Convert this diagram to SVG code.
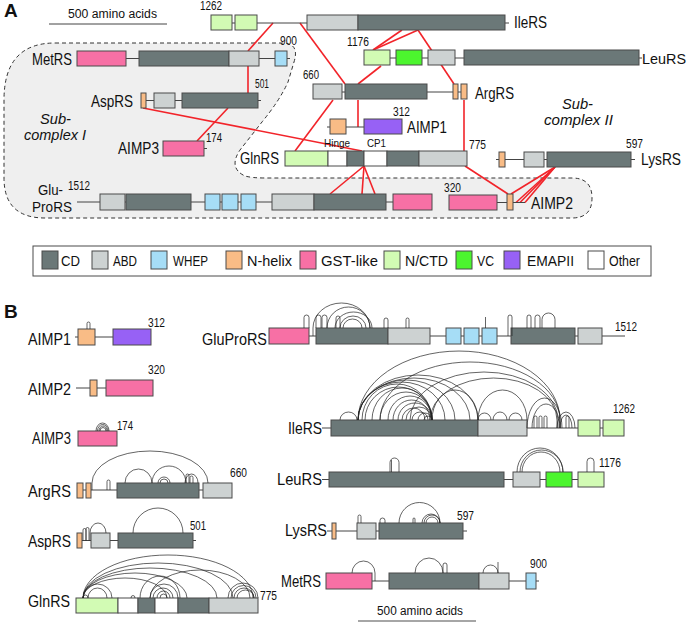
<svg xmlns="http://www.w3.org/2000/svg" width="691" height="626" viewBox="0 0 691 626">
<style>
text{font-family:"Liberation Sans",Arial,sans-serif;fill:#111}
.lb{font-size:17px}
.lb2{font-size:15.5px}
.nm{font-size:12px}
.sm{font-size:10.5px}
.it{font-size:14px;font-style:italic}
.pl{font-size:19px;font-weight:bold}
.lg{font-size:15px}
rect{stroke:#4a4a4a;stroke-width:1}
.cd{fill:#6b7878}.abd{fill:#cdd2d2}.whep{fill:#a6ddf6}.nh{fill:#f9bc86}.gst{fill:#f770a5}.nctd{fill:#d2fbb4}.vc{fill:#4cf52e}.emap{fill:#9761f5}.oth{fill:#fff}
.ln{stroke:#444;stroke-width:1;fill:none}
.red{stroke:#f2242a;stroke-width:1.6;fill:none}
.arc{fill:none;stroke:#222;stroke-width:0.7}
</style>

<!-- Panel A -->
<text class="pl" x="4" y="17">A</text>
<g id="scaleA">
<text x="68" y="18" font-size="12.5" textLength="89" lengthAdjust="spacingAndGlyphs">500 amino acids</text>
<line class="ln" x1="49" y1="24" x2="167" y2="24"/>
</g>

<path id="subcomplexI" d="M55,43 L282,43 Q300,43 294,62 L288,82 Q280,100 262,122 L240,150 Q228,168 245,176 Q252,178 265,178 L572,178 Q592,178 592,198 Q592,218 572,218 L45,218 Q4,218 4,178 L4,100 Q4,43 55,43 Z" fill="#efefef" stroke="#333" stroke-width="1" stroke-dasharray="4 3"/>
<text class="it" x="40" y="124" textLength="31" lengthAdjust="spacingAndGlyphs">Sub-</text>
<text class="it" x="24" y="139.5" textLength="62" lengthAdjust="spacingAndGlyphs">complex I</text>
<text class="it" x="562" y="109" textLength="31" lengthAdjust="spacingAndGlyphs">Sub-</text>
<text class="it" x="544" y="125" textLength="69" lengthAdjust="spacingAndGlyphs">complex II</text>

<g id="connectors">
<line class="red" x1="273" y1="23" x2="248" y2="51"/>
<line class="red" x1="300" y1="23" x2="345" y2="84"/>
<line class="red" x1="402" y1="30" x2="373" y2="50"/>
<line class="red" x1="418" y1="30" x2="373" y2="50"/>
<line class="red" x1="418" y1="30" x2="454" y2="84"/>
<line class="red" x1="381" y1="66" x2="358" y2="84"/>
<line class="red" x1="248" y1="66" x2="248" y2="93"/>
<line class="red" x1="143" y1="108" x2="362" y2="151"/>
<line class="red" x1="228" y1="108" x2="197" y2="141"/>
<line class="red" x1="333" y1="100" x2="295" y2="151"/>
<line class="red" x1="358" y1="100" x2="358" y2="127"/>
<line class="red" x1="464" y1="100" x2="464" y2="151"/>
<line class="red" x1="465" y1="166" x2="508" y2="194"/>
<line class="red" x1="364" y1="166" x2="330" y2="194"/>
<line class="red" x1="364" y1="166" x2="362" y2="194"/>
<line class="red" x1="364" y1="166" x2="375" y2="194"/>
<line class="red" x1="555" y1="167" x2="511" y2="194"/>
<line class="red" x1="555" y1="167" x2="516" y2="202.5"/>
<line class="red" x1="555" y1="167" x2="520" y2="202.5"/>
<line class="red" x1="555" y1="167" x2="525" y2="202.5"/>
</g>

<g id="A-IleRS">
<line class="ln" x1="211" y1="23" x2="509" y2="23"/>
<rect class="nctd" x="211" y="15" width="21" height="15"/>
<rect class="nctd" x="235" y="15" width="22" height="15"/>
<rect class="abd" x="307" y="15" width="51" height="15"/>
<rect class="cd" x="358" y="15" width="147" height="15"/>
<text class="nm" x="200" y="10" textLength="22" lengthAdjust="spacingAndGlyphs">1262</text>
<text class="lb" x="514" y="28" textLength="33" lengthAdjust="spacingAndGlyphs">IleRS</text>
</g>
<g id="A-LeuRS">
<line class="ln" x1="364" y1="58" x2="642" y2="58"/>
<rect class="nctd" x="364" y="50" width="26" height="15"/>
<rect class="vc" x="396" y="50" width="26" height="15"/>
<rect class="abd" x="428" y="50" width="27" height="15"/>
<rect class="cd" x="464" y="50" width="175" height="15"/>
<text class="nm" x="347" y="46" textLength="22" lengthAdjust="spacingAndGlyphs">1176</text>
<text class="lb2" x="642" y="64" textLength="44" lengthAdjust="spacingAndGlyphs">LeuRS</text>
</g>
<g id="A-ArgRS">
<line class="ln" x1="313" y1="92" x2="467" y2="92"/>
<rect class="abd" x="313" y="84" width="29" height="15"/>
<rect class="cd" x="345" y="84" width="82" height="15"/>
<rect class="nh" x="453" y="84" width="5" height="15"/>
<rect class="nh" x="461" y="84" width="6" height="15"/>
<text class="nm" x="303" y="79" textLength="16" lengthAdjust="spacingAndGlyphs">660</text>
<text class="lb" x="475" y="99" textLength="39" lengthAdjust="spacingAndGlyphs">ArgRS</text>
</g>
<g id="A-AIMP1">
<line class="ln" x1="327" y1="127" x2="402" y2="127"/>
<rect class="nh" x="330" y="119" width="16" height="15"/>
<rect class="emap" x="364" y="119" width="38" height="15"/>
<text class="nm" x="393" y="116" textLength="17" lengthAdjust="spacingAndGlyphs">312</text>
<text class="lb" x="407" y="133" textLength="40" lengthAdjust="spacingAndGlyphs">AIMP1</text>
</g>
<g id="A-GlnRS">
<rect class="nctd" x="285" y="151" width="43" height="15"/>
<rect class="oth" x="328" y="151" width="19" height="15"/>
<rect class="cd" x="347" y="151" width="17" height="15"/>
<rect class="oth" x="364" y="151" width="23" height="15"/>
<rect class="cd" x="387" y="151" width="32" height="15"/>
<rect class="abd" x="419" y="151" width="48" height="15"/>
<text class="sm" x="324" y="147" textLength="26" lengthAdjust="spacingAndGlyphs">Hinge</text>
<text class="sm" x="367" y="147" textLength="19" lengthAdjust="spacingAndGlyphs">CP1</text>
<text class="nm" x="469" y="149" textLength="17" lengthAdjust="spacingAndGlyphs">775</text>
<text class="lb" x="240" y="164" textLength="39" lengthAdjust="spacingAndGlyphs">GlnRS</text>
</g>
<g id="A-LysRS">
<line class="ln" x1="496" y1="159.5" x2="635" y2="159.5"/>
<rect class="nh" x="499" y="152" width="6" height="15"/>
<rect class="abd" x="524" y="152" width="20" height="15"/>
<rect class="cd" x="547" y="152" width="84" height="15"/>
<text class="nm" x="626" y="148" textLength="17" lengthAdjust="spacingAndGlyphs">597</text>
<text class="lb" x="641" y="165" textLength="40" lengthAdjust="spacingAndGlyphs">LysRS</text>
</g>
<g id="A-AIMP2">
<line class="ln" x1="497" y1="202.5" x2="525" y2="202.5"/>
<rect class="gst" x="449" y="195" width="48" height="15"/>
<rect class="nh" x="507" y="194" width="6" height="16"/>
<text class="nm" x="444" y="192" textLength="17" lengthAdjust="spacingAndGlyphs">320</text>
<text class="lb" x="531" y="209" textLength="42" lengthAdjust="spacingAndGlyphs">AIMP2</text>
</g>
<g id="A-GluProRS">
<line class="ln" x1="77" y1="202" x2="432" y2="202"/>
<rect class="abd" x="100" y="194" width="25" height="16"/>
<rect class="cd" x="126" y="194" width="65" height="16"/>
<rect class="whep" x="205" y="194" width="15" height="16"/>
<rect class="whep" x="222" y="194" width="16" height="16"/>
<rect class="whep" x="241" y="194" width="15" height="16"/>
<rect class="abd" x="272" y="194" width="42" height="16"/>
<rect class="cd" x="314" y="194" width="72" height="16"/>
<rect class="gst" x="393" y="194" width="39" height="16"/>
<text class="nm" x="68" y="190" textLength="22" lengthAdjust="spacingAndGlyphs">1512</text>
<text class="lb2" x="38" y="195" textLength="25" lengthAdjust="spacingAndGlyphs">Glu-</text>
<text class="lb2" x="32" y="212" textLength="40" lengthAdjust="spacingAndGlyphs">ProRS</text>
</g>
<g id="A-MetRS">
<line class="ln" x1="126" y1="58.5" x2="290" y2="58.5"/>
<rect class="gst" x="77" y="51" width="49" height="15"/>
<rect class="cd" x="139" y="51" width="90" height="15"/>
<rect class="abd" x="229" y="51" width="30" height="15"/>
<rect class="whep" x="275" y="51" width="12" height="15"/>
<text class="nm" x="280" y="45" textLength="17" lengthAdjust="spacingAndGlyphs">900</text>
<text class="lb" x="32" y="65" textLength="40" lengthAdjust="spacingAndGlyphs">MetRS</text>
</g>
<g id="A-AspRS">
<line class="ln" x1="141" y1="100.5" x2="261" y2="100.5"/>
<rect class="nh" x="141" y="93" width="5" height="15"/>
<rect class="abd" x="154" y="93" width="21" height="15"/>
<rect class="cd" x="182" y="93" width="76" height="15"/>
<text class="nm" x="255" y="88" textLength="14" lengthAdjust="spacingAndGlyphs">501</text>
<text class="lb" x="91" y="107" textLength="42" lengthAdjust="spacingAndGlyphs">AspRS</text>
</g>
<g id="A-AIMP3">
<line class="ln" x1="204" y1="148.5" x2="207" y2="148.5"/>
<rect class="gst" x="163" y="141" width="41" height="15"/>
<text class="nm" x="206" y="142" textLength="16" lengthAdjust="spacingAndGlyphs">174</text>
<text class="lb" x="118" y="154" textLength="41" lengthAdjust="spacingAndGlyphs">AIMP3</text>
</g>

<g id="legend">
<rect x="33" y="246" width="618" height="30" fill="#fff" stroke="#555"/>
<rect class="cd" x="42" y="251" width="16" height="18"/><text class="lg" x="61" y="266" textLength="19" lengthAdjust="spacingAndGlyphs">CD</text>
<rect class="abd" x="92" y="251" width="16" height="18"/><text class="lg" x="113" y="266" textLength="24" lengthAdjust="spacingAndGlyphs">ABD</text>
<rect class="whep" x="151" y="251" width="16" height="18"/><text class="lg" x="173" y="266" textLength="35" lengthAdjust="spacingAndGlyphs">WHEP</text>
<rect class="nh" x="226" y="251" width="16" height="18"/><text class="lg" x="247" y="266" textLength="45" lengthAdjust="spacingAndGlyphs">N-helix</text>
<rect class="gst" x="300" y="251" width="16" height="18"/><text class="lg" x="321" y="266" textLength="57" lengthAdjust="spacingAndGlyphs">GST-like</text>
<rect class="nctd" x="384" y="251" width="16" height="18"/><text class="lg" x="405" y="266" textLength="43" lengthAdjust="spacingAndGlyphs">N/CTD</text>
<rect class="vc" x="456" y="251" width="16" height="18"/><text class="lg" x="477" y="266" textLength="17" lengthAdjust="spacingAndGlyphs">VC</text>
<rect class="emap" x="504" y="251" width="16" height="18"/><text class="lg" x="527" y="266" textLength="47" lengthAdjust="spacingAndGlyphs">EMAPII</text>
<rect class="oth" x="588" y="251" width="16" height="18"/><text class="lg" x="609" y="266" textLength="31" lengthAdjust="spacingAndGlyphs">Other</text>
</g>

<!-- Panel B -->
<text class="pl" x="4" y="318">B</text>

<g id="B-AIMP1">
<line class="ln" x1="75" y1="337" x2="113" y2="337"/>
<rect class="nh" x="78" y="329" width="17" height="16"/>
<rect class="emap" x="113" y="329" width="38" height="16"/>
<path class="arc" d="M87,329 V323.5 A1.5,1.5 0 0 1 90,323.5 V329"/>
<text class="nm" x="148" y="327" textLength="17" lengthAdjust="spacingAndGlyphs">312</text>
<text class="lb" x="28" y="345" textLength="43" lengthAdjust="spacingAndGlyphs">AIMP1</text>
</g>
<g id="B-AIMP2">
<line class="ln" x1="76" y1="388" x2="106" y2="388"/>
<rect class="nh" x="90" y="380" width="7" height="16"/>
<rect class="gst" x="106" y="380" width="47" height="16"/>
<text class="nm" x="148" y="374" textLength="17" lengthAdjust="spacingAndGlyphs">320</text>
<text class="lb" x="28" y="395" textLength="43" lengthAdjust="spacingAndGlyphs">AIMP2</text>
</g>
<g id="B-AIMP3">
<rect class="gst" x="78" y="431" width="39" height="15"/>
<path class="arc" d="M96,431 A6.5,8 0 0 1 109,431 M97.5,431 A5.25,6.5 0 0 1 108,431 M99,431 A4,5 0 0 1 107,431 M100,431 A3,3.5 0 0 1 106,431"/>
<text class="nm" x="117" y="430" textLength="16" lengthAdjust="spacingAndGlyphs">174</text>
<text class="lb" x="32" y="444" textLength="39" lengthAdjust="spacingAndGlyphs">AIMP3</text>
</g>
<g id="B-ArgRS">
<line class="ln" x1="77" y1="490" x2="232" y2="490"/>
<rect class="nh" x="77" y="483" width="6" height="15"/>
<rect class="nh" x="86" y="483" width="5" height="15"/>
<rect class="cd" x="117" y="483" width="82" height="15"/>
<rect class="abd" x="203" y="483" width="29" height="15"/>
<path class="arc" d="M92,490 V483 A58,32 0 0 1 208,483 M107,490 V481.5 A1.5,1.5 0 0 1 110,481.5 V490 M125,483 A13.5,14 0 0 1 152,483 M152,483 A17,17 0 0 1 186,483 M158,483 A6,6 0 0 1 170,483 M160,483 A4,4 0 0 1 168,483 M185,483 A6.5,9 0 0 1 198,483 M186,483 V475.5 A1.5,1.5 0 0 1 189,475.5 V483 M190,483 V477.5 A1.5,1.5 0 0 1 193,477.5 V483"/>
<text class="nm" x="230" y="477" textLength="17" lengthAdjust="spacingAndGlyphs">660</text>
<text class="lb" x="28" y="497" textLength="43" lengthAdjust="spacingAndGlyphs">ArgRS</text>
</g>
<g id="B-AspRS">
<line class="ln" x1="77" y1="540.5" x2="196" y2="540.5"/>
<rect class="nh" x="77" y="533" width="5" height="15"/>
<rect class="abd" x="91" y="533" width="19" height="15"/>
<rect class="cd" x="118" y="533" width="75" height="15"/>
<path class="arc" d="M133,533 A25,25 0 0 1 183,533 M90,540.5 V533 A8,10 0 0 1 106,533 M83,540.5 V530 A1.5,1.5 0 0 1 86,530 V540.5 M86,540.5 V529 A1.5,1.5 0 0 1 89,529 V540.5"/>
<text class="nm" x="190" y="530" textLength="16" lengthAdjust="spacingAndGlyphs">501</text>
<text class="lb" x="28" y="547" textLength="43" lengthAdjust="spacingAndGlyphs">AspRS</text>
</g>
<g id="B-GlnRS">
<rect class="nctd" x="76" y="598" width="42" height="15"/>
<rect class="oth" x="118" y="598" width="20" height="15"/>
<rect class="cd" x="138" y="598" width="17" height="15"/>
<rect class="oth" x="155" y="598" width="23" height="15"/>
<rect class="cd" x="178" y="598" width="31" height="15"/>
<rect class="abd" x="209" y="598" width="49" height="15"/>
<path class="arc" d="M83,598 A85,43 0 0 1 253,598 M83,598 A75,35 0 0 1 233,598 M83,598 A67,30 0 0 1 217,598 M83,598 A52,25 0 0 1 187,598 M83,598 A42,20 0 0 1 167,598 M83,598 A14.5,14 0 0 1 112,598 M88,598 A9.5,10 0 0 1 107,598 M83,598 A2.5,3 0 0 1 88,598 M131,598 A2,2.5 0 0 1 135,598 M150,598 A50,28 0 0 1 250,598 M140,598 A20,22 0 0 1 180,598 M150,598 A14,14 0 0 1 178,598 M153,598 A10,10 0 0 1 173,598 M157,598 A6.5,7 0 0 1 170,598 M160,598 A3.5,4 0 0 1 167,598 M228,598 A15,15 0 0 1 258,598 M231,598 A12.5,12.5 0 0 1 256,598 M234,598 A10,10 0 0 1 254,598 M237,598 A8.5,8 0 0 1 254,598"/>
<text class="nm" x="260" y="600" textLength="17" lengthAdjust="spacingAndGlyphs">775</text>
<text class="lb" x="28" y="607" textLength="42" lengthAdjust="spacingAndGlyphs">GlnRS</text>
</g>
<g id="B-GluProRS">
<line class="ln" x1="269" y1="336" x2="625" y2="336"/>
<rect class="gst" x="269" y="328" width="40" height="16"/>
<rect class="cd" x="316" y="328" width="72" height="16"/>
<rect class="abd" x="388" y="328" width="42" height="16"/>
<rect class="whep" x="446" y="328" width="15" height="16"/>
<rect class="whep" x="464" y="328" width="15" height="16"/>
<rect class="whep" x="482" y="328" width="15" height="16"/>
<rect class="cd" x="511" y="328" width="64" height="16"/>
<rect class="abd" x="578" y="328" width="24" height="16"/>
<path class="arc" d="M313,336 V328 A28.5,25 0 0 1 370,328 M327,328 A21.5,21 0 0 1 370,328 M335,328 A18.5,16 0 0 1 372,328 M340,328 A13,12 0 0 1 366,328 M343,328 A9.5,9 0 0 1 362,328 M304,328 V317.5 A2.5,2.5 0 0 1 309,317.5 V328 M316,328 V317.5 A2.5,2.5 0 0 1 321,317.5 V328 M322,328 V317.5 A2.5,2.5 0 0 1 327,317.5 V328 M336,328 V318 A2,2 0 0 1 340,318 V328 M384,328 V320 A2,2 0 0 1 388,320 V328 M406,328 V319.5 A1.5,1.5 0 0 1 409,319.5 V328 M485.5,328 V317 M508,336 V317 A2,2 0 0 1 512,317 V336 M527,328 V317 A2,2 0 0 1 531,317 V328 M535,328 V317.5 A2.5,2.5 0 0 1 540,317.5 V328 M542,328 V319.5 A6.5,6.5 0 0 1 555,319.5 V328"/>
<text class="nm" x="615" y="331" textLength="22" lengthAdjust="spacingAndGlyphs">1512</text>
<text class="lb" x="202" y="345" textLength="65" lengthAdjust="spacingAndGlyphs">GluProRS</text>
</g>
<g id="B-IleRS">
<line class="ln" x1="322" y1="428" x2="624" y2="428"/>
<rect class="cd" x="331" y="420" width="147" height="16"/>
<rect class="abd" x="478" y="420" width="49" height="16"/>
<rect class="nctd" x="578" y="420" width="22" height="16"/>
<rect class="nctd" x="603" y="420" width="21" height="16"/>
<path class="arc" d="M358,420 A101,69 0 0 1 560,420 V428 M380,420 A90,58 0 0 1 560,420 V428 M410,420 A74,48 0 0 1 558,420 V428 M430,420 A63.5,42 0 0 1 557,420 V428 M358,420 A60,45 0 0 1 478,420 M358,420 A56,42 0 0 1 470,420 M358,420 A48.5,40 0 0 1 455,420 M358,420 A43.5,38 0 0 1 445,420 M362,420 A35,36 0 0 1 432,420 M365,420 A33.5,33 0 0 1 432,420 M372,420 A30,32 0 0 1 432,420 M380,420 A26,28 0 0 1 432,420 M388,420 A22,24 0 0 1 432,420 M393,420 A18.5,20 0 0 1 430,420 M398,420 A17,17 0 0 1 432,420 M402,420 A11.5,12 0 0 1 425,420 M406,420 A13,13 0 0 1 432,420 M412,420 A8,8 0 0 1 428,420 M418,420 A7,7 0 0 1 432,420 M424,420 A4,4 0 0 1 432,420 M432,420 A23,30 0 0 1 478,420 M478,420 A24.5,30 0 0 1 527,420 M527,428 A17.5,30 0 0 1 562,428 M532,428 A14,24 0 0 1 560,428 M340,420 A8.5,8 0 0 1 357,420 M478,420 A6.5,7 0 0 1 491,420 M493,420 A7,8 0 0 1 507,420 M509,420 A6.5,7 0 0 1 522,420 M534,428 V417.5 A1.5,1.5 0 0 1 537,417.5 V428 M539,428 V417.5 A1.5,1.5 0 0 1 542,417.5 V428 M544,428 V417.5 A1.5,1.5 0 0 1 547,417.5 V428 M557,428 A9,16 0 0 1 575,428 M560,428 A6,13 0 0 1 572,428 M566,428 V417.5 A1.5,1.5 0 0 1 569,417.5 V428"/>
<text class="nm" x="613" y="413" textLength="22" lengthAdjust="spacingAndGlyphs">1262</text>
<text class="lb" x="288" y="434" textLength="34" lengthAdjust="spacingAndGlyphs">IleRS</text>
</g>
<g id="B-LeuRS">
<line class="ln" x1="322" y1="479.5" x2="604" y2="479.5"/>
<rect class="cd" x="329" y="472" width="175" height="15"/>
<rect class="abd" x="513" y="472" width="27" height="15"/>
<rect class="vc" x="546" y="472" width="26" height="15"/>
<rect class="nctd" x="578" y="472" width="26" height="15"/>
<path class="arc" d="M390,472 V462.5 A4.5,4.5 0 0 1 399,462.5 V472 M391.5,472 V460 M517,472 A23,24 0 0 1 563,472 M520,472 A21.5,22 0 0 1 563,472 M522,472 A19,20 0 0 1 560,472 M587,472 V461.5 A3.5,3.5 0 0 1 594,461.5 V472"/>
<text class="nm" x="599" y="467" textLength="22" lengthAdjust="spacingAndGlyphs">1176</text>
<text class="lb" x="277" y="485" textLength="45" lengthAdjust="spacingAndGlyphs">LeuRS</text>
</g>
<g id="B-LysRS">
<line class="ln" x1="327" y1="531" x2="467" y2="531"/>
<rect class="nh" x="332" y="523" width="4" height="16"/>
<rect class="abd" x="357" y="523" width="19" height="16"/>
<rect class="cd" x="379" y="523" width="84" height="16"/>
<path class="arc" d="M399,523 A20.5,20.5 0 0 1 440,523 M422,523 A9,9 0 0 1 440,523 M424,523 A8,8 0 0 1 440,523 M426,523 A6,6 0 0 1 438,523 M358,523 V516.5 A1.5,1.5 0 0 1 361,516.5 V523 M380,523 V520.5 A2.5,2.5 0 0 1 385,520.5 V523 M413,523 V519 A1,1 0 0 1 415,519 V523"/>
<text class="nm" x="457" y="520" textLength="17" lengthAdjust="spacingAndGlyphs">597</text>
<text class="lb" x="285" y="536" textLength="42" lengthAdjust="spacingAndGlyphs">LysRS</text>
</g>
<g id="B-MetRS">
<line class="ln" x1="372" y1="581" x2="539" y2="581"/>
<rect class="gst" x="326" y="573" width="46" height="16"/>
<rect class="cd" x="389" y="573" width="90" height="16"/>
<rect class="abd" x="479" y="573" width="30" height="16"/>
<rect class="whep" x="526" y="573" width="10" height="16"/>
<path class="arc" d="M352,573 A11.5,12 0 0 1 375,573 V581 M415,573 A14,15 0 0 1 443,573 M443,573 V565 A2,2 0 0 1 447,565 V573 M483,573 A7.5,8 0 0 1 498,573 M498,573 V562"/>
<text class="nm" x="530" y="568" textLength="17" lengthAdjust="spacingAndGlyphs">900</text>
<text class="lb" x="281" y="587" textLength="40" lengthAdjust="spacingAndGlyphs">MetRS</text>
</g>
<g id="scaleB">
<text x="377" y="615" font-size="12.5" textLength="86" lengthAdjust="spacingAndGlyphs">500 amino acids</text>
<line x1="358" y1="621" x2="476" y2="621" stroke="#888" stroke-width="1.5"/>
</g>
</svg>
